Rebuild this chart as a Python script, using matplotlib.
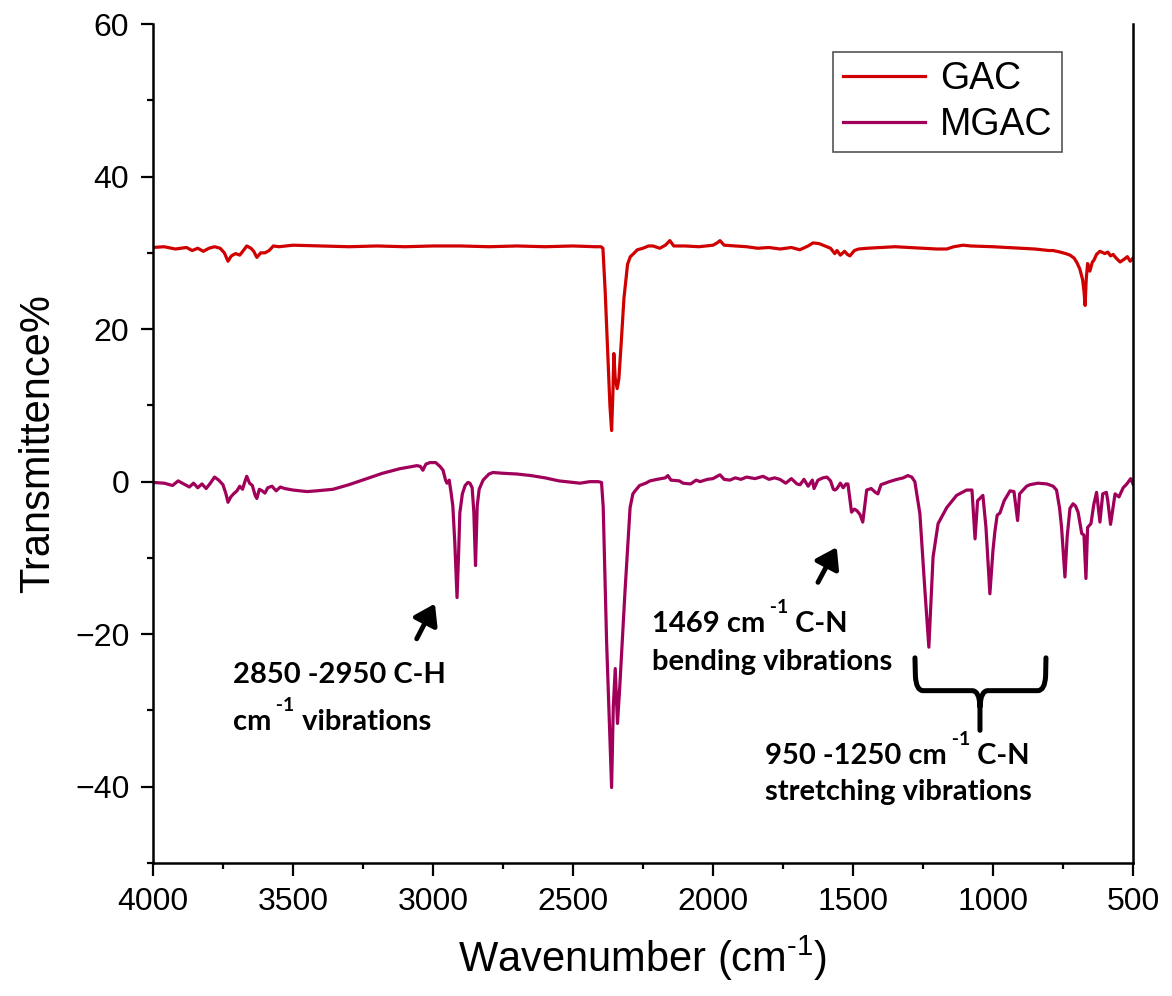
import numpy as np
import matplotlib.pyplot as plt
from matplotlib.path import Path
from matplotlib.patches import PathPatch
from matplotlib.ticker import MultipleLocator

plt.rcParams['font.family'] = ['Liberation Sans', 'DejaVu Sans']
plt.rcParams['mathtext.fontset'] = 'custom'
plt.rcParams['mathtext.rm'] = 'Liberation Sans'

# FTIR spectra
gac_wn = [4000, 3960, 3920, 3880, 3860, 3840, 3820, 3800, 3780, 3760, 3745, 3732, 3720, 3705,
          3690, 3675, 3665, 3650, 3640, 3629, 3615, 3600, 3585, 3570, 3550, 3500, 3400, 3300,
          3200, 3100, 3000, 2900, 2800, 2700, 2600, 2500, 2420, 2400, 2393, 2385, 2375, 2368,
          2362, 2357, 2354, 2349, 2342, 2336, 2328, 2318, 2305, 2295, 2286, 2270, 2250, 2230,
          2214, 2190, 2170, 2154, 2140, 2100, 2050, 2000, 1985, 1975, 1960, 1920, 1880, 1840,
          1800, 1760, 1720, 1690, 1660, 1643, 1620, 1600, 1580, 1565, 1557, 1545, 1530, 1520,
          1511, 1495, 1480, 1450, 1400, 1350, 1300, 1250, 1200, 1165, 1140, 1107, 1080, 1000,
          950, 900, 850, 800, 785, 760, 740, 725, 710, 700, 690, 680, 675, 671, 667, 662, 654,
          645, 640, 630, 618, 600, 590, 580, 571, 560, 546, 530, 520, 510, 500]
gac_t = [30.7, 30.8, 30.5, 30.7, 30.3, 30.6, 30.2, 30.6, 30.8, 30.6, 30.0, 28.9, 29.6, 29.9,
         29.7, 30.4, 30.9, 30.6, 30.2, 29.4, 30.0, 30.0, 30.3, 30.9, 30.8, 31.0, 30.9, 30.8,
         30.9, 30.8, 30.9, 30.9, 30.8, 30.9, 30.8, 30.9, 30.8, 30.8, 30.6, 25.0, 16.0, 10.0,
         6.7, 12.0, 16.8, 13.5, 12.2, 13.5, 18.0, 24.0, 28.5, 29.5, 29.8, 30.4, 30.6, 30.9,
         30.9, 30.6, 31.0, 31.6, 30.9, 30.9, 30.8, 31.0, 31.3, 31.6, 31.0, 30.9, 30.8, 30.6,
         30.7, 30.5, 30.7, 30.4, 30.9, 31.3, 31.2, 30.9, 30.6, 29.9, 30.3, 29.7, 30.2, 29.8,
         29.6, 30.3, 30.5, 30.6, 30.7, 30.8, 30.7, 30.6, 30.5, 30.5, 30.8, 31.0, 30.9, 30.8,
         30.7, 30.6, 30.5, 30.3, 30.3, 30.1, 29.9, 29.7, 29.3, 28.7, 27.9, 26.5, 25.0, 23.1,
         26.5, 28.6, 27.6, 28.8, 29.0, 29.8, 30.2, 29.9, 30.1, 29.6, 29.8, 29.3, 28.8, 29.2,
         29.5, 28.9, 29.3]

mgac_wn = [4000, 3960, 3930, 3910, 3890, 3870, 3855, 3840, 3825, 3810, 3795, 3780, 3765, 3750,
           3740, 3732, 3722, 3712, 3700, 3690, 3680, 3670, 3665, 3655, 3645, 3635, 3629, 3620,
           3610, 3600, 3590, 3575, 3560, 3545, 3530, 3500, 3450, 3414, 3357, 3300, 3236, 3180,
           3118, 3057, 3045, 3036, 3025, 3011, 2990, 2975, 2964, 2955, 2950, 2942, 2935, 2929,
           2922, 2914, 2908, 2904, 2895, 2885, 2875, 2868, 2860, 2854, 2848, 2842, 2835, 2821,
           2800, 2786, 2750, 2700, 2650, 2600, 2550, 2500, 2475, 2440, 2410, 2398, 2392, 2380,
           2362, 2356, 2349, 2341, 2333, 2314, 2296, 2286, 2278, 2262, 2240, 2225, 2200, 2170,
           2161, 2150, 2120, 2107, 2080, 2060, 2046, 2020, 2000, 1975, 1960, 1940, 1920, 1900,
           1880, 1850, 1821, 1800, 1780, 1761, 1740, 1720, 1700, 1689, 1675, 1660, 1645, 1639,
           1625, 1607, 1593, 1580, 1570, 1564, 1557, 1545, 1535, 1525, 1518, 1505, 1495, 1486,
           1475, 1465, 1451, 1435, 1420, 1411, 1400, 1370, 1343, 1320, 1304, 1290, 1279, 1261,
           1243, 1229, 1214, 1196, 1165, 1130, 1094, 1075, 1064, 1055, 1036, 1025, 1011, 1000,
           993, 985, 975, 960, 939, 925, 912, 905, 880, 868, 840, 807, 785, 773, 762, 755, 743,
           735, 725, 714, 705, 696, 683, 675, 668, 662, 650, 640, 630, 618, 608, 595, 590, 580,
           564, 550, 535, 522, 508, 500]
mgac_t = [-0.1, -0.2, -0.5, 0.1, -0.3, -0.7, -0.2, -0.8, -0.3, -0.9, -0.2, 0.6, 0.2, -0.4,
          -1.5, -2.7, -2.0, -1.6, -1.2, -0.6, -1.0, 0.2, 0.7, -0.2, -0.5, -1.8, -2.2, -1.0,
          -1.2, -1.5, -0.8, -0.6, -1.2, -0.7, -0.9, -1.1, -1.3, -1.2, -1.0, -0.4, 0.4, 1.1,
          1.7, 2.1, 2.0, 1.5, 2.3, 2.5, 2.5, 2.0, 1.5, 0.2, -0.2, 0.2, -1.5, -3.2,
          -8.0, -15.2, -9.0, -4.1, -1.6, -0.5, -0.1, -0.2, -0.8, -4.0, -11.0, -3.2, -1.0, 0.2,
          1.0, 1.2, 1.1, 1.0, 0.8, 0.5, 0.1, -0.1, -0.2, 0.0, 0.0, -0.1, -3.3, -20.8,
          -40.1, -29.6, -24.5, -31.7, -27.0, -14.3, -3.4, -1.6, -1.2, -0.5, -0.2, 0.1, 0.3, 0.5,
          0.8, 0.2, 0.1, -0.2, -0.3, 0.2, 0.0, 0.3, 0.4, 0.9, 0.3, 0.2, 0.5, 0.3,
          0.6, 0.4, 0.7, 0.3, 0.5, 0.3, -0.2, 0.4, -0.3, -0.4, 0.3, -0.6, 0.2, -0.9,
          0.2, 0.5, 0.6, 0.1, -1.0, -1.1, -0.9, -0.2, -0.8, -0.3, -0.3, -4.0, -3.6, -3.8,
          -4.3, -5.3, -1.1, -0.9, -1.4, -1.6, -0.4, 0.0, 0.3, 0.5, 0.8, 0.6, 0.0, -4.2,
          -14.3, -21.7, -9.9, -5.5, -3.4, -1.8, -1.1, -1.1, -7.5, -2.5, -1.8, -6.0, -14.7, -9.0,
          -6.5, -4.4, -4.1, -2.5, -1.2, -1.3, -5.1, -1.6, -0.6, -0.4, -0.2, -0.3, -0.6, -1.1, -3.5, -6.0, -12.5,
          -7.2, -3.5, -2.9, -3.2, -4.0, -6.8, -7.0, -12.7, -6.0, -5.5, -3.0, -1.4, -5.3, -1.6, -1.4, -2.5, -5.6,
          -1.6, -2.0, -0.8, -0.3, 0.4, -0.3]

fig = plt.figure(figsize=(11.72, 9.96), dpi=100)
ax = fig.add_axes([0.1305, 0.1335, 0.8362, 0.8424])

ax.plot(gac_wn, gac_t, color='#D00000', lw=2.3, label='GAC')
ax.plot(mgac_wn, mgac_t, color='#A0005A', lw=2.3, label='MGAC')

ax.set_xlim(4000, 500)
ax.set_ylim(-50, 60)
ax.xaxis.set_major_locator(MultipleLocator(500))
ax.xaxis.set_minor_locator(MultipleLocator(250))
ax.yaxis.set_major_locator(MultipleLocator(20))
ax.yaxis.set_minor_locator(MultipleLocator(10))
ax.tick_params(which='both', direction='out', width=1.6, labelsize=23, pad=8)
ax.tick_params(which='major', length=9)
ax.tick_params(which='minor', length=4.5)
ax.spines['top'].set_visible(False)
for s in ('left', 'bottom', 'right'):
    ax.spines[s].set_linewidth(1.8)

ax.set_xlabel(r'Wavenumber (cm$^{\text{-}1}$)', fontsize=30, labelpad=12)
ax.set_ylabel('Transmittence%', fontsize=30, labelpad=12)

leg = ax.legend(loc='upper right', bbox_to_anchor=(0.9276, 0.9666), borderaxespad=0,
                fontsize=27, handlelength=2.2, fancybox=False, edgecolor='#555555',
                framealpha=1, borderpad=0.25, labelspacing=0.25, handletextpad=0.4)
leg.get_frame().set_linewidth(1.2)


def label_parts(x, y, parts):
    """write text pieces left to right; a piece marked sup is raised and small"""
    font = dict(fontfamily=['Lato', 'DejaVu Sans'], fontweight='bold')
    first, rest = parts[0], parts[1:]
    base = ax.text(x, y, first, fontsize=21, ha='left', va='bottom', **font)
    prev = base
    for txt, sup in rest:
        if sup:
            prev = ax.annotate(txt, xy=(1, 0.82), xycoords=(prev, base), fontsize=14,
                               ha='left', va='bottom', **font)
        else:
            prev = ax.annotate(txt, xy=(1, 0), xycoords=(prev, base), fontsize=21,
                               ha='left', va='bottom', **font)


label_parts(3714, -27.0, ['2850 -2950 C-H'])
label_parts(3714, -33.2, ['cm', (' -1', True), (' vibrations', False)])
label_parts(2218, -20.4, ['1469 cm', (' -1', True), (' C-N', False)])
label_parts(2218, -25.4, ['bending vibrations'])
label_parts(1814, -37.7, ['950 -1250 cm', (' -1', True), (' C-N', False)])
label_parts(1814, -42.4, ['stretching vibrations'])

arrow = dict(arrowstyle='-|>,head_length=0.6,head_width=0.4', lw=3.5, color='k',
             mutation_scale=20, shrinkA=0, shrinkB=0)
ax.annotate('', xy=(2993, -16.0), xytext=(3058, -20.6), arrowprops=arrow)
ax.annotate('', xy=(1558, -8.6), xytext=(1625, -13.2), arrowprops=arrow)

# curly bracket under the 950-1250 region
verts = [(1278.6, -23.1), (1277, -25.5), (1274, -27.4), (1250, -27.4), (1075, -27.4),
         (1048, -27.4), (1046.4, -29.5), (1046.4, -32.6),
         (1046.4, -29.5), (1044, -27.4), (1018, -27.4), (840, -27.4),
         (815, -27.4), (812, -25.5), (810.7, -23.1)]
codes = [Path.MOVETO, Path.LINETO, Path.CURVE3, Path.CURVE3, Path.LINETO,
         Path.CURVE3, Path.CURVE3, Path.LINETO,
         Path.MOVETO, Path.CURVE3, Path.CURVE3, Path.LINETO,
         Path.CURVE3, Path.CURVE3, Path.LINETO]
ax.add_patch(PathPatch(Path(verts, codes), fill=False, lw=3.6, color='k',
                       capstyle='round', joinstyle='round'))

fig.savefig('out.png', dpi=100)
